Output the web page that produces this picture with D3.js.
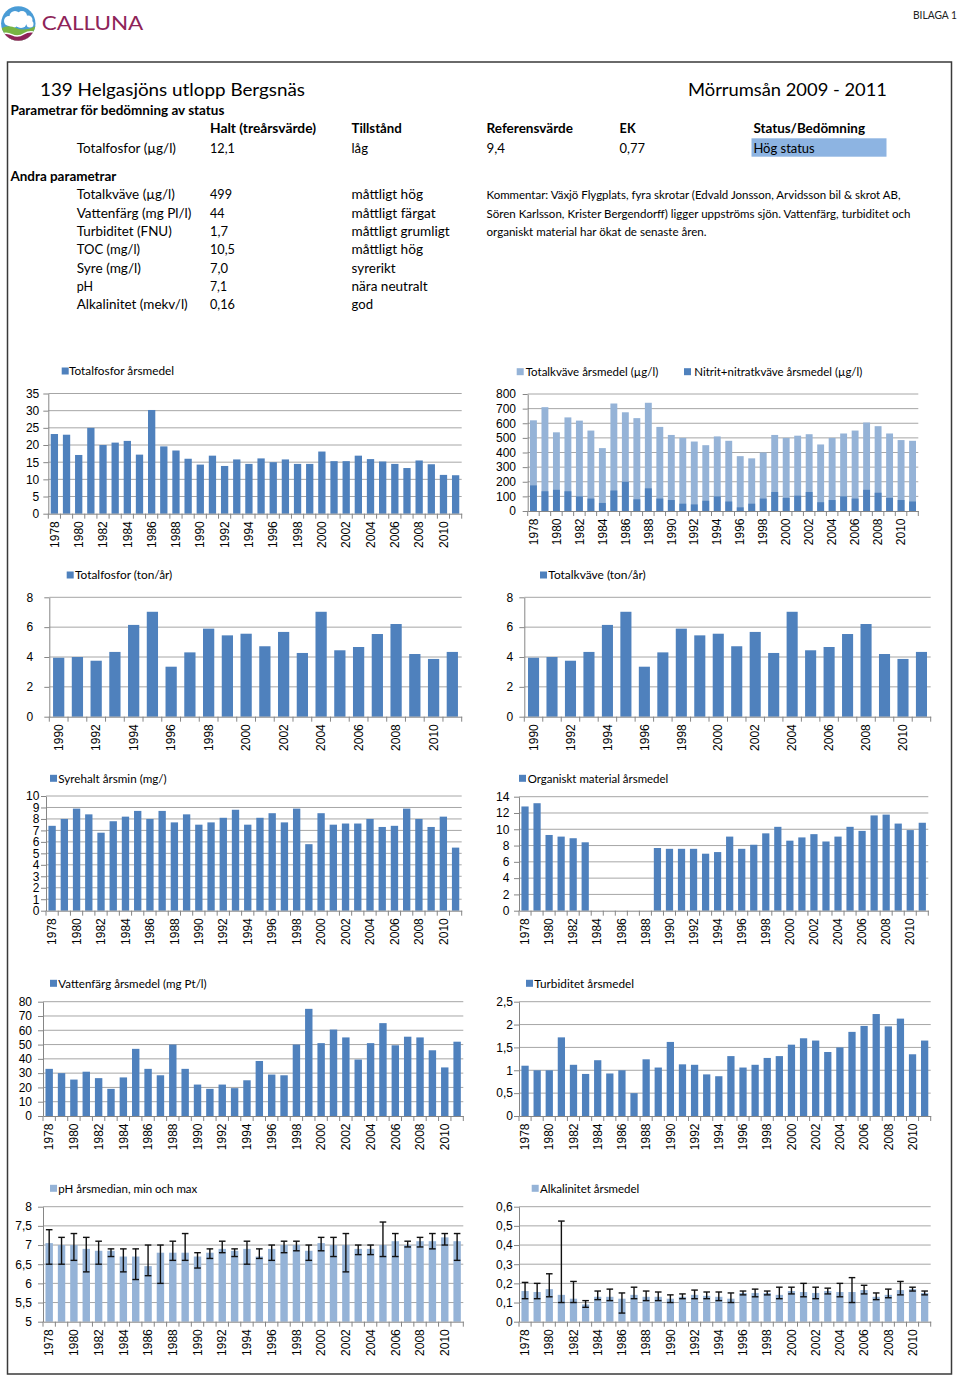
<!DOCTYPE html>
<html><head><meta charset="utf-8">
<script src="https://cdn.jsdelivr.net/npm/d3@7"></script>
<style>body{margin:0;background:#fff}svg{display:block}</style>
</head><body>
<svg id="page" width="960" height="1376"></svg>
<script>
// ---------------- DATA ----------------
const years = ["1978","1979","1980","1981","1982","1983","1984","1985","1986","1987","1988","1989","1990","1991","1992","1993","1994","1995","1996","1997","1998","1999","2000","2001","2002","2003","2004","2005","2006","2007","2008","2009","2010","2011"];
const yearsTon = ["1990","1991","1992","1993","1994","1995","1996","1997","1998","1999","2000","2001","2002","2003","2004","2005","2006","2007","2008","2009","2010","2011"];

const totalfosforMedel = [23.2,23.0,17.1,25.0,20.0,20.7,21.2,17.2,30.2,19.6,18.4,16.0,14.3,16.9,13.9,15.8,14.5,16.1,15.0,15.8,14.5,14.5,18.1,15.3,15.3,16.9,15.9,15.2,14.5,13.3,15.5,14.4,11.3,11.2];
const totalkvaveMedel = [620,710,538,640,618,550,430,735,675,635,740,575,520,500,475,450,510,480,375,360,400,520,500,515,525,455,500,530,550,605,580,530,485,480];
const nitratMedel = [175,135,145,135,100,85,55,140,200,80,155,85,75,50,45,70,100,65,25,50,85,130,90,105,130,60,75,100,85,145,125,90,75,65];
const totalfosforTon = [3.95,4.0,3.75,4.34,6.15,7.03,3.35,4.31,5.9,5.45,5.56,4.72,5.68,4.27,7.03,4.45,4.67,5.54,6.21,4.2,3.87,4.34];
const totalkvaveTon = [3.95,4.0,3.75,4.34,6.15,7.03,3.35,4.31,5.9,5.45,5.56,4.72,5.68,4.27,7.03,4.45,4.67,5.54,6.21,4.2,3.87,4.34];
const syrehaltMin = [7.4,8.0,8.9,8.4,6.8,7.8,8.2,8.7,8.0,8.7,7.7,8.4,7.5,7.7,8.1,8.8,7.5,8.1,8.5,7.7,8.9,5.8,8.5,7.5,7.6,7.6,8.0,7.3,7.4,8.9,8.0,7.3,8.2,5.5];
const organisktMedel = [12.8,13.2,9.3,9.1,8.9,8.4,null,null,null,null,null,7.7,7.6,7.6,7.6,7.0,7.2,9.1,7.6,8.1,9.5,10.3,8.6,9.0,9.4,8.5,9.1,10.3,9.8,11.7,11.8,10.7,9.9,10.8];
const vattenfargMedel = [33,30,25.5,31,26.5,19,27,47,33,28.5,50,33,22,19,22,19.5,25,38.5,29,28.5,50,75,51,60.5,55,39.5,51,65,49.5,55.5,55,46,34,52];
const turbiditetMedel = [1.1,1.0,1.0,1.72,1.12,0.92,1.22,0.93,1.0,0.5,1.24,1.06,1.62,1.13,1.12,0.91,0.87,1.31,1.06,1.12,1.27,1.31,1.56,1.7,1.65,1.4,1.5,1.84,1.97,2.23,1.96,2.13,1.35,1.65];
const phMedian = [7.05,7.0,7.0,6.9,6.85,6.85,6.7,6.7,6.45,6.8,6.8,6.8,6.7,6.8,6.9,6.85,6.9,6.7,6.9,7.0,7.0,6.85,7.05,7.0,7.0,6.9,6.9,7.0,7.1,7.0,7.1,7.1,7.2,7.1];
const phMin = [6.5,6.5,6.6,6.3,6.5,6.7,6.3,6.1,6.2,6.0,6.6,6.6,6.4,6.65,6.8,6.7,6.5,6.65,6.6,6.8,6.85,6.6,6.85,6.7,6.3,6.75,6.75,6.7,6.7,6.95,6.95,6.9,7.0,6.6];
const phMax = [7.4,7.2,7.3,7.2,7.1,6.9,6.9,6.9,7.0,7.0,7.1,7.3,6.8,6.9,7.1,6.9,7.1,6.9,7.0,7.1,7.1,7.0,7.2,7.2,7.3,7.0,7.0,7.6,7.3,7.1,7.2,7.3,7.3,7.3];
const alkMedel = [0.16,0.155,0.17,0.14,0.12,0.09,0.13,0.13,0.12,0.14,0.13,0.13,0.12,0.13,0.14,0.135,0.13,0.12,0.15,0.15,0.15,0.14,0.16,0.155,0.15,0.16,0.155,0.155,0.165,0.13,0.14,0.165,0.17,0.15];
const alkMin = [0.12,0.12,0.13,0.10,0.10,0.075,0.115,0.11,0.045,0.12,0.11,0.11,0.10,0.12,0.12,0.12,0.11,0.10,0.14,0.13,0.14,0.12,0.145,0.13,0.12,0.145,0.13,0.10,0.145,0.115,0.125,0.14,0.16,0.14];
const alkMax = [0.205,0.20,0.25,0.525,0.21,0.11,0.16,0.17,0.15,0.18,0.16,0.155,0.14,0.145,0.165,0.155,0.155,0.15,0.16,0.17,0.16,0.18,0.18,0.20,0.18,0.175,0.20,0.23,0.19,0.15,0.17,0.21,0.18,0.16];

const ticks35 = [0,5,10,15,20,25,30,35];
const ticks800 = [0,100,200,300,400,500,600,700,800];
const ticks8 = [0,2,4,6,8];
const ticks10 = [0,1,2,3,4,5,6,7,8,9,10];
const ticks14 = [0,2,4,6,8,10,12,14];
const ticks80 = [0,10,20,30,40,50,60,70,80];
const ticks25 = [0,0.5,1,1.5,2,2.5];
const ticksPh = [5,5.5,6,6.5,7,7.5,8];
const ticksAlk = [0,0.1,0.2,0.3,0.4,0.5,0.6];

const legendNames = ["Totalfosfor årsmedel","Totalkväve årsmedel (µg/l)","Nitrit+nitratkväve årsmedel (µg/l)","Totalfosfor (ton/år)","Totalkväve (ton/år)","Syrehalt årsmin (mg/)","Organiskt material årsmedel","Vattenfärg årsmedel (mg Pt/l)","Turbiditet årsmedel","pH årsmedian, min och max","Alkalinitet årsmedel"];

const statusHeader = ["Halt (treårsvärde)","Tillstånd","Referensvärde","EK","Status/Bedömning"];
const statusRow = ["Totalfosfor (µg/l)","12,1","låg","9,4","0,77","Hög status"];
const otherParams = ["Totalkväve (µg/l)","Vattenfärg (mg Pl/l)","Turbiditet (FNU)","TOC (mg/l)","Syre (mg/l)","pH","Alkalinitet (mekv/l)"];
const otherHalt = ["499","44","1,7","10,5","7,0","7,1","0,16"];
const otherTillstand = ["måttligt hög","måttligt färgat","måttligt grumligt","måttligt hög","syrerikt","nära neutralt","god"];
const commentLines = ["Kommentar:  Växjö Flygplats, fyra skrotar (Edvald Jonsson, Arvidsson bil & skrot AB,","Sören Karlsson, Krister Bergendorff) ligger uppströms sjön. Vattenfärg, turbiditet och","organiskt material har ökat de senaste åren."];

// ---------------- STYLE / LAYOUT ----------------
const DARK = "#4F81BD", LIGHT = "#95B3D7", GRID = "#A6A6A6", AXIS = "#868686";
const FONT = "Lato, 'Open Sans', sans-serif";
const AXFONT = "'Liberation Sans', Arial, sans-serif";
const BARW = 0.6;

const svg = d3.select("#page");

function label(g, x, y, s, o) {
  const t = g.append("text").attr("x", x).attr("y", y).text(s)
    .attr("font-family", o.family || FONT).attr("font-size", o.size)
    .attr("font-weight", o.weight || "normal").attr("fill", o.fill || "#000");
  if (o.w) t.attr("textLength", o.w).attr("lengthAdjust", "spacingAndGlyphs");
  return t;
}

// ---- logo ----
const logo = svg.append("g");
const defs = svg.append("defs");
defs.append("clipPath").attr("id", "lc").append("circle").attr("cx", 18.3).attr("cy", 23.5).attr("r", 17.2);
const lg = logo.append("g").attr("clip-path", "url(#lc)");
lg.append("rect").attr("x", 0).attr("y", 5).attr("width", 40).attr("height", 40).attr("fill", "#4A9CD6");
[[9,21,5],[15,16.5,5.5],[22,16,5],[28,20,4.5],[13,23,5],[21,22,6],[30,24,3.5]].forEach(c =>
  lg.append("circle").attr("cx", c[0]).attr("cy", c[1]).attr("r", c[2]).attr("fill", "#fff"));
lg.append("path").attr("d", "M0,29 Q8,24 16,28 T36,26 L40,26 V45 H0Z").attr("fill", "#78B443");
lg.append("path").attr("d", "M0,34 Q6,31 12,34 T24,33 T40,33 V45 H0Z").attr("fill", "#fff");
lg.append("path").attr("d", "M0,35.5 Q6,32.5 12,35.5 T24,34.5 T40,34.5 V45 H0Z").attr("fill", "#8E2458");
label(logo, 41.7, 30, "CALLUNA", {size: 20, fill: "#8E2458", w: 101.6});
label(svg, 913, 19, "BILAGA 1", {size: 11, fill: "#222", w: 44});

// ---- frame ----
svg.append("rect").attr("x", 7.5).attr("y", 62).attr("width", 944).attr("height", 1312)
  .attr("fill", "none").attr("stroke", "#3a3a3a").attr("stroke-width", 1.5);

// ---- header table ----
const hdr = svg.append("g");
label(hdr, 40, 96, "139 Helgasjöns utlopp Bergsnäs", {size: 18, w: 265});
label(hdr, 688, 96, "Mörrumsån 2009 - 2011", {size: 18, w: 199});
label(hdr, 10.4, 115, "Parametrar för bedömning av status", {size: 12.5, weight: "bold", w: 214});
const colX = [210, 351.5, 486.5, 619.6, 753.4];
const headerW = [106, 50.3, 86.5, 16, 111.6];
statusHeader.forEach((s, i) => label(hdr, colX[i], 133.3, s, {size: 12.5, weight: "bold", w: headerW[i]}));
hdr.append("rect").attr("x", 751.5).attr("y", 138.3).attr("width", 135).attr("height", 18.4).attr("fill", "#8DB4E2");
const rowX = [76.7].concat(colX);
const rowW = [99.3, 25, 16.5, 18.5, 25.4, 61.3];
statusRow.forEach((s, i) => label(hdr, rowX[i], 152.5, s, {size: 12.5, w: rowW[i]}));
label(hdr, 10.4, 181, "Andra parametrar", {size: 12.5, weight: "bold", w: 106});
const paramW = [98.1, 114.7, 95.1, 63.3, 64.3, 16.3, 111];
const haltW = [22, 14.5, 18, 25, 18, 17, 25];
const tillW = [71.5, 84.1, 98.2, 71.5, 44.2, 76.1, 21.5];
otherParams.forEach((s, i) => {
  const yy = 199.3 + i * 18.35;
  label(hdr, 76.7, yy, s, {size: 12.5, w: paramW[i]});
  label(hdr, 210, yy, otherHalt[i], {size: 12.5, w: haltW[i]});
  label(hdr, 351.5, yy, otherTillstand[i], {size: 12.5, w: tillW[i]});
});
const commentW = [414, 424, 220];
commentLines.forEach((s, i) => label(hdr, 486.5, 199.3 + i * 18.35, s, {size: 10.5, w: commentW[i]}));

// ---- charts ----
const fmt = d => String(d).replace(".", ",");

function barChart(cfg) {
  const g = svg.append("g");
  const x = d3.scaleBand().domain(cfg.cats).range([cfg.l, cfg.r]).padding(0);
  const y = d3.scaleLinear().domain([cfg.ticks[0], cfg.ticks[cfg.ticks.length - 1]]).range([cfg.b, cfg.t]);
  const base = cfg.ticks[0];
  // gridlines
  g.selectAll(null).data(cfg.ticks.slice(1)).join("line")
    .attr("x1", cfg.l).attr("x2", cfg.r).attr("y1", d => y(d)).attr("y2", d => y(d))
    .attr("stroke", GRID).attr("stroke-width", 1);
  // bars
  const bw = x.bandwidth() * BARW;
  cfg.series.forEach(s => {
    const pts = cfg.cats.map((c, i) => ({c, v: s.values[i]})).filter(d => d.v != null);
    g.selectAll(null).data(pts).join("rect")
      .attr("x", d => x(d.c) + (x.bandwidth() - bw) / 2).attr("width", bw)
      .attr("y", d => y(d.v)).attr("height", d => y(base) - y(d.v)).attr("fill", s.color);
  });
  // error bars
  if (cfg.err) {
    const pts = cfg.cats.map((c, i) => ({c, lo: cfg.err.lo[i], hi: cfg.err.hi[i]}));
    const cx = d => x(d.c) + x.bandwidth() / 2;
    const eg = g.append("g").attr("stroke", "#111").attr("stroke-width", 1.4);
    eg.selectAll(null).data(pts).join("line").attr("x1", cx).attr("x2", cx).attr("y1", d => y(d.lo)).attr("y2", d => y(d.hi));
    eg.selectAll(null).data(pts).join("line").attr("x1", d => cx(d) - 3.3).attr("x2", d => cx(d) + 3.3).attr("y1", d => y(d.lo)).attr("y2", d => y(d.lo));
    eg.selectAll(null).data(pts).join("line").attr("x1", d => cx(d) - 3.3).attr("x2", d => cx(d) + 3.3).attr("y1", d => y(d.hi)).attr("y2", d => y(d.hi));
  }
  // y axis
  const ya = g.append("g").attr("transform", `translate(${cfg.l},0)`)
    .call(d3.axisLeft(y).tickValues(cfg.ticks).tickSize(5).tickSizeOuter(0).tickPadding(cfg.gap - 5).tickFormat(fmt));
  ya.select(".domain").attr("stroke", AXIS);
  ya.selectAll(".tick line").attr("stroke", AXIS);
  ya.selectAll("text").attr("font-family", AXFONT).attr("font-size", 12).attr("fill", "#000");
  // x axis
  const xa = g.append("g").attr("transform", `translate(0,${cfg.b})`)
    .call(d3.axisBottom(x).tickValues(cfg.cats.filter(c => +c % 2 === 0)).tickSize(0).tickSizeOuter(0));
  xa.select(".domain").attr("stroke", AXIS);
  xa.selectAll("text").attr("font-family", AXFONT).attr("font-size", 12).attr("fill", "#000")
    .attr("transform", "rotate(-90)").attr("text-anchor", "end").attr("x", -7.5).attr("y", 0).attr("dy", "0.35em");
  // category tick marks at band boundaries
  const bounds = cfg.cats.map(c => x(c)).concat([cfg.r]);
  g.selectAll(null).data(bounds).join("line")
    .attr("x1", d => d).attr("x2", d => d).attr("y1", cfg.b).attr("y2", cfg.b + 5).attr("stroke", AXIS);
  // legend
  cfg.legend.forEach(it => {
    g.append("rect").attr("x", it.x).attr("y", cfg.ly - 3.5).attr("width", 7).attr("height", 7).attr("fill", it.color);
    label(g, it.tx, cfg.ly + 4.2, it.name, {size: 12, w: it.w});
  });
}

const charts = [
  {cats: years, ticks: ticks35, series: [{values: totalfosforMedel, color: DARK}],
   l: 48.3, r: 461.7, t: 393.5, b: 513.7, gap: 9, ly: 371,
   legend: [{x: 61.7, tx: 69, w: 105, name: legendNames[0], color: DARK}]},
  {cats: years, ticks: ticks800, series: [{values: totalkvaveMedel, color: LIGHT}, {values: nitratMedel, color: DARK}],
   l: 527.7, r: 918.3, t: 394, b: 511, gap: 11.7, ly: 371.7,
   legend: [{x: 516.7, tx: 525.7, w: 132.6, name: legendNames[1], color: LIGHT},
            {x: 684, tx: 694.3, w: 168, name: legendNames[2], color: DARK}]},
  {cats: yearsTon, ticks: ticks8, series: [{values: totalfosforTon, color: DARK}],
   l: 49.3, r: 461.7, t: 597.3, b: 716.7, gap: 16, ly: 575,
   legend: [{x: 66.7, tx: 75, w: 97.3, name: legendNames[3], color: DARK}]},
  {cats: yearsTon, ticks: ticks8, series: [{values: totalkvaveTon, color: DARK}],
   l: 524.3, r: 930.7, t: 597.3, b: 716.7, gap: 11, ly: 575,
   legend: [{x: 540, tx: 548.3, w: 97.4, name: legendNames[4], color: DARK}]},
  {cats: years, ticks: ticks10, series: [{values: syrehaltMin, color: DARK}],
   l: 46, r: 461.7, t: 796, b: 910.7, gap: 6.7, ly: 778.3,
   legend: [{x: 50, tx: 58.3, w: 108.4, name: legendNames[5], color: DARK}]},
  {cats: years, ticks: ticks14, series: [{values: organisktMedel, color: DARK}],
   l: 519, r: 928.3, t: 796.7, b: 910.7, gap: 9.7, ly: 778.3,
   legend: [{x: 519, tx: 527.7, w: 140.6, name: legendNames[6], color: DARK}]},
  {cats: years, ticks: ticks80, series: [{values: vattenfargMedel, color: DARK}],
   l: 43, r: 463.3, t: 1001.7, b: 1116, gap: 11, ly: 983.3,
   legend: [{x: 50, tx: 58.3, w: 148.4, name: legendNames[7], color: DARK}]},
  {cats: years, ticks: ticks25, series: [{values: turbiditetMedel, color: DARK}],
   l: 519, r: 930.7, t: 1001.7, b: 1116, gap: 6, ly: 983.3,
   legend: [{x: 526, tx: 534.3, w: 99.7, name: legendNames[8], color: DARK}]},
  {cats: years, ticks: ticksPh, series: [{values: phMedian, color: LIGHT}], err: {lo: phMin, hi: phMax},
   l: 43, r: 463.3, t: 1206.7, b: 1321.7, gap: 11, ly: 1188.3,
   legend: [{x: 50, tx: 58.3, w: 139, name: legendNames[9], color: LIGHT}]},
  {cats: years, ticks: ticksAlk, series: [{values: alkMedel, color: LIGHT}], err: {lo: alkMin, hi: alkMax},
   l: 519, r: 930.7, t: 1206.7, b: 1321.7, gap: 6.3, ly: 1188.3,
   legend: [{x: 531.7, tx: 540, w: 99.3, name: legendNames[10], color: LIGHT}]}
];
charts.forEach(barChart);
</script>
</body></html>
